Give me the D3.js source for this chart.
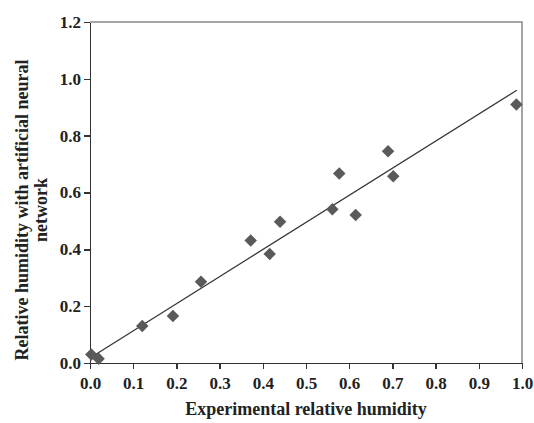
<!DOCTYPE html>
<html lang="en">
<head>
<meta charset="utf-8">
<script src="https://d3js.org/d3.v7.min.js"></script>
<style type="text/css">
body {
  margin: 0;
  background-color: #ffffff;
  font-family: "Liberation Serif", "Times New Roman", serif;
}
.axis text {
  font: bold 17px "Liberation Serif", serif;
  fill: #222;
}
.axis line, .axis path {
  stroke: #333;
  stroke-width: 1.5;
  shape-rendering: crispEdges;
}
.label {
  font: bold 18px "Liberation Serif", serif;
  fill: #222;
}
</style>
</head>
<body>
<script type="text/javascript">

// measured vs predicted relative humidity
var experimental = [0.003, 0.02, 0.121, 0.192, 0.257, 0.372, 0.416, 0.440, 0.561, 0.577, 0.615, 0.690, 0.702, 0.987];
var predicted    = [0.030, 0.015, 0.130, 0.165, 0.286, 0.431, 0.384, 0.497, 0.541, 0.667, 0.521, 0.745, 0.657, 0.910];

// trend line end points
var fitX = [0.0, 0.988];
var fitY = [0.018, 0.960];

var xTicks = [0, 0.1, 0.2, 0.3, 0.4, 0.5, 0.6, 0.7, 0.8, 0.9, 1.0];
var yTicks = [0, 0.2, 0.4, 0.6, 0.8, 1.0, 1.2];

var width = 534;
var height = 423;
var margin = {left: 90, right: 12, top: 22, bottom: 60};

var svg = d3.select("body")
  .append("svg")
  .attr("width", width)
  .attr("height", height);

var x = d3.scaleLinear().domain([0, 1]).range([margin.left, width - margin.right]);
var y = d3.scaleLinear().domain([0, 1.2]).range([height - margin.bottom, margin.top]);

// top / right frame
svg.append("path")
  .attr("d", "M" + x(0) + "," + y(1.2) + "H" + x(1) + "V" + y(0))
  .style("fill", "none")
  .style("stroke", "#888")
  .style("stroke-width", 1.5);

svg.append("g")
  .attr("class", "axis")
  .attr("transform", "translate(0," + y(0) + ")")
  .call(d3.axisBottom(x).tickValues(xTicks).tickSize(6).tickSizeOuter(0).tickPadding(8).tickFormat(d3.format(".1f")));

svg.append("g")
  .attr("class", "axis")
  .attr("transform", "translate(" + x(0) + ",0)")
  .call(d3.axisLeft(y).tickValues(yTicks).tickSize(6).tickSizeOuter(0).tickPadding(3).tickFormat(d3.format(".1f")));

// trend line
svg.append("line")
  .attr("x1", x(fitX[0])).attr("y1", y(fitY[0]))
  .attr("x2", x(fitX[1])).attr("y2", y(fitY[1]))
  .style("stroke", "#333")
  .style("stroke-width", 1.2);

// diamonds
var diamond = d3.symbol().type(d3.symbolSquare).size(78);
svg.selectAll("path.pt")
  .data(experimental)
  .enter()
  .append("path")
  .attr("class", "pt")
  .attr("d", diamond)
  .attr("transform", function(d, i) {
    return "translate(" + x(d) + "," + y(predicted[i]) + ") rotate(45)";
  })
  .style("fill", "#5a5a5a");

// axis titles
svg.append("text")
  .attr("class", "label")
  .attr("x", (x(0) + x(1)) / 2)
  .attr("y", 415)
  .attr("text-anchor", "middle")
  .text("Experimental relative humidity");

var yl = svg.append("text")
  .attr("class", "label")
  .attr("transform", "translate(28,210) rotate(-90)")
  .attr("text-anchor", "middle");
yl.append("tspan").attr("x", 0).attr("y", 0).text("Relative humidity with artificial neural");
yl.append("tspan").attr("x", 0).attr("y", 19).text("network");

</script>
</body>
</html>
